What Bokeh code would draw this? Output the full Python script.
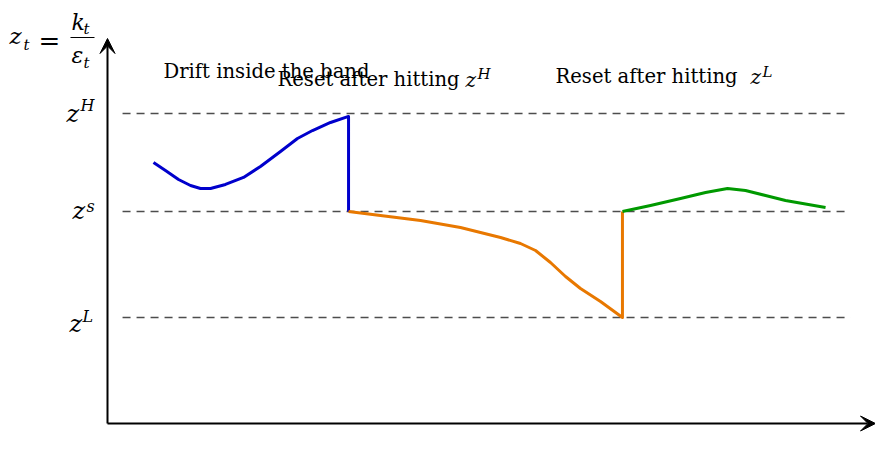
from bokeh.plotting import figure
from bokeh.models import Label, Arrow, VeeHead, Range1d
from bokeh.embed import file_html
from bokeh.resources import INLINE

# ---------------- data ----------------
# band levels
level_names = ["L", "s", "H"]
levels = [1.0, 2.0, 2.925]
band_x = [0.142, 7.01]

# phase 1: drift inside the band (blue), then reset at z^H
drift_t = [0.434, 0.547, 0.670, 0.783, 0.877, 0.972, 1.113, 1.283, 1.443, 1.632,
           1.792, 1.934, 2.104, 2.274, 2.274]
drift_z = [2.462, 2.387, 2.302, 2.245, 2.217, 2.217, 2.255, 2.321, 2.425, 2.566,
           2.689, 2.764, 2.840, 2.897, 2.0]

# phase 2: after reset at z^H (orange), hits z^L and resets
resetH_t = [2.274, 2.575, 2.953, 3.330, 3.708, 3.896, 4.038, 4.179, 4.321, 4.462,
            4.651, 4.858, 4.858]
resetH_z = [2.0, 1.962, 1.915, 1.849, 1.755, 1.698, 1.632, 1.519, 1.387, 1.274,
            1.151, 1.0, 2.0]

# phase 3: after reset at z^L (green)
resetL_t = [4.858, 5.123, 5.406, 5.642, 5.849, 6.019, 6.208, 6.396, 6.774]
resetL_z = [2.0, 2.057, 2.123, 2.179, 2.217, 2.198, 2.151, 2.104, 2.038]

# ---------------- layout helpers ----------------
S = 106.0          # pixels per data unit
OX, OY = 107, 423  # origin in page pixels
W, H = 875, 451


def X(px):
    return (px - OX) / S


def Y(py):
    return (OY - py) / S


p = figure(width=W, height=H, output_backend="svg", toolbar_location=None,
           x_axis_location=None, y_axis_location=None, min_border=0,
           x_range=Range1d(X(0), X(W)), y_range=Range1d(Y(H), Y(0)),
           outline_line_color=None, background_fill_color="white")
p.grid.visible = False

# dashed band lines
p.segment(x0=[band_x[0]] * len(levels), x1=[band_x[1]] * len(levels),
          y0=levels, y1=levels, line_color="#4d4d4d", line_width=1.4,
          line_dash="8 6")

# paths
p.line(drift_t, drift_z, line_color="#0000CC", line_width=3, line_join="round")
p.line(resetH_t, resetH_z, line_color="#E87800", line_width=3, line_join="round")
p.line(resetL_t, resetL_z, line_color="#009900", line_width=3, line_join="round")

# axes with arrows
p.add_layout(Arrow(x_start=0, y_start=0, x_end=X(875), y_end=0, line_width=2,
                   line_color="black",
                   end=VeeHead(size=15, fill_color="black", line_color="black")))
p.add_layout(Arrow(x_start=0, y_start=0, x_end=0, y_end=Y(38), line_width=2,
                   line_color="black",
                   end=VeeHead(size=15, fill_color="black", line_color="black")))

SERIF = "DejaVu Serif"
BASE_FIX = 0.4  # empirical baseline correction (fraction of font size)


def lab(px, py, text, size=19.6, italic=False):
    p.add_layout(Label(x=X(px), y=Y(py - BASE_FIX * size), text=text,
                       text_font=SERIF, text_font_size=f"{size}px",
                       text_font_style="italic" if italic else "normal",
                       text_baseline="alphabetic", text_align="left",
                       text_color="black"))


# y-axis title  z_t = k_t / eps_t
lab(9, 45, "z", 23, True)
lab(23, 50, "t", 15, True)
lab(38, 51, "=", 26)
lab(71, 31, "k", 22, True)
lab(83, 34, "t", 15, True)
p.add_layout(Arrow(x_start=X(70), y_start=Y(37), x_end=X(94), y_end=Y(37),
                   start=None, end=None, line_width=1.2, line_color="black"))
lab(71, 64, "ε", 22, True)
lab(83, 68, "t", 15, True)

# tick-like labels for the band levels
tick_pos = {"H": (66, 123, 80, 111), "s": (72, 220, 86, 212), "L": (69, 333, 82, 322)}
for name in level_names:
    zx, zb, sx, sb = tick_pos[name]
    lab(zx, zb, "z", 24, True)
    lab(sx, sb, name, 16, True)

# phase captions
lab(163, 79, "Drift inside the band")
lab(277, 87, "Reset after hitting")
lab(465, 87, "z", 20, True)
lab(477, 79, "H", 15, True)
lab(555, 84, "Reset after hitting")
lab(750, 84, "z", 20, True)
lab(762, 77, "L", 15, True)

open("out.html", "w").write(file_html(p, INLINE))
